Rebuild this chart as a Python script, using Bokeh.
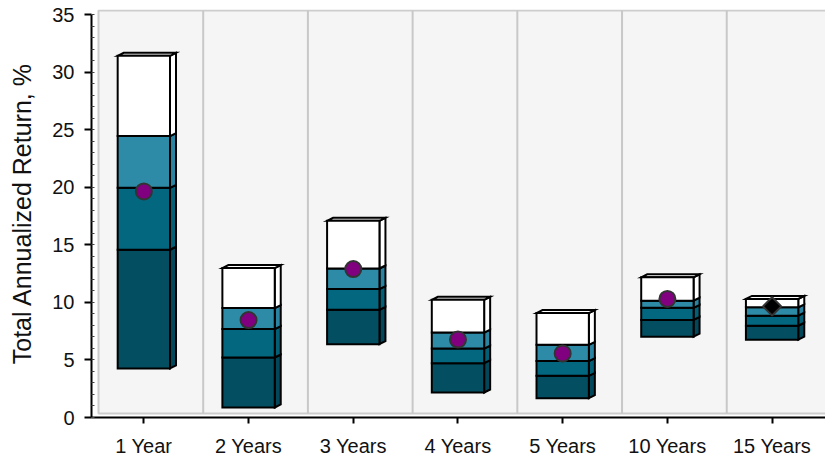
from math import pi
from bokeh.plotting import figure
from bokeh.models import FixedTicker, Range1d
from bokeh.embed import file_html
from bokeh.resources import INLINE

# ---------------- data ----------------
categories = ["1 Year", "2 Years", "3 Years", "4 Years", "5 Years", "10 Years", "15 Years"]
low    = [4.26, 0.87, 6.37, 2.17, 1.68, 7.02, 6.76]      # bottom of range
q1     = [14.57, 5.21, 9.35, 4.72, 3.62, 8.47, 7.97]
median = [19.95, 7.68, 11.15, 5.99, 4.90, 9.53, 8.84]
q3     = [24.44, 9.50, 12.94, 7.38, 6.31, 10.15, 9.57]
high   = [31.41, 12.98, 17.08, 10.22, 9.07, 12.17, 10.30]  # top of range
fund_return  = [19.63, 8.46, 12.89, 6.77, 5.56, 10.30, None]
index_return = [None, None, None, None, None, None, 9.65]
y_ticks = [0, 5, 10, 15, 20, 25, 30, 35]

# ---------------- style ----------------
FONT = "Liberation Sans"
seg_colors = ["#034e60", "#02677f", "#2e8ba7", "#ffffff"]
side_colors = ["#02475a", "#025f76", "#2a83a0", "#ffffff"]
FRAME_W, FRAME_H = 734, 408
X0, X1 = -0.5, 6.51
Y0, Y1 = 0, 35.435
px_x = FRAME_W / (X1 - X0)
px_y = FRAME_H / (Y1 - Y0)
bar_dx, bar_dy = 6 / px_x, 3 / px_y
wall_dx, wall_dy = 7 / px_x, 4 / px_y
half_w = 0.25

p = figure(width=825, height=460, x_range=Range1d(X0, X1), y_range=Range1d(Y0, Y1),
           output_backend="svg", toolbar_location=None,
           min_border_left=91, min_border_right=0, min_border_top=9, min_border_bottom=43)
p.outline_line_color = None
p.background_fill_color = "white"
p.border_fill_color = "white"
p.xgrid.visible = False
p.ygrid.visible = False

# back wall
p.quad(left=[X0 + wall_dx], right=[X1 + 1], bottom=[wall_dy], top=[y_ticks[-1] + wall_dy],
       fill_color="#f5f5f5", line_color="#cdcdcd", line_width=2)
# vertical grid lines on wall (category boundaries)
bx = [i + 0.5 + wall_dx for i in range(len(categories))]
p.segment(x0=bx, y0=[wall_dy] * len(bx), x1=bx, y1=[y_ticks[-1] + wall_dy] * len(bx),
          line_color="#c8c8c8", line_width=2)

# bars
levels = list(zip(low, q1, median, q3, high))
side_xs, side_ys, side_c = [], [], []
top_xs, top_ys = [], []
ql, qr, qb, qt, qc = [], [], [], [], []
for i, lv in enumerate(levels):
    l, r = i - half_w, i + half_w
    for k in range(4):
        b, t = lv[k], lv[k + 1]
        side_xs.append([r, r + bar_dx, r + bar_dx, r])
        side_ys.append([b, b + bar_dy, t + bar_dy, t])
        side_c.append(side_colors[k])
        ql.append(l); qr.append(r); qb.append(b); qt.append(t); qc.append(seg_colors[k])
    top = lv[-1]
    top_xs.append([l, l + bar_dx, r + bar_dx, r])
    top_ys.append([top, top + bar_dy, top + bar_dy, top])

p.patches(side_xs, side_ys, fill_color=side_c, line_color="black", line_width=2, line_join="miter")
p.patches(top_xs, top_ys, fill_color="white", line_color="black", line_width=2, line_join="miter")
p.quad(left=ql, right=qr, bottom=qb, top=qt, fill_color=qc, line_color="black", line_width=2,
       line_join="miter")

# markers
fx = [i for i, v in enumerate(fund_return) if v is not None]
fy = [v for v in fund_return if v is not None]
p.scatter(fx, fy, marker="circle", size=16, fill_color="#800080", line_color="#333333", line_width=2)
ix = [i for i, v in enumerate(index_return) if v is not None]
iy = [v for v in index_return if v is not None]
p.scatter(ix, iy, marker="square", angle=pi / 4, size=13, fill_color="black",
          line_color="#333333", line_width=2)

# axes
ya = p.yaxis[0]
ya.ticker = FixedTicker(ticks=y_ticks, minor_ticks=list(range(y_ticks[0], y_ticks[-1] + 1)))
ya.bounds = (y_ticks[0], y_ticks[-1])
ya.axis_label = "Total Annualized Return, %"
ya.axis_label_text_font = FONT
ya.axis_label_text_font_size = "25px"
ya.axis_label_text_font_style = "normal"
ya.axis_label_text_color = "#111111"
ya.axis_label_standoff = 13
ya.major_label_text_font = FONT
ya.major_label_text_font_size = "20px"
ya.major_label_text_color = "#111111"
ya.major_label_standoff = 10
ya.major_tick_out = 7
ya.major_tick_in = 0
ya.major_tick_line_width = 2
ya.minor_tick_in = 3
ya.minor_tick_out = 0
ya.minor_tick_line_color = "#444444"
ya.axis_line_width = 2

xa = p.xaxis[0]
xa.ticker = FixedTicker(ticks=list(range(len(categories))), minor_ticks=[])
xa.major_label_overrides = {i: c for i, c in enumerate(categories)}
xa.major_label_text_font = FONT
xa.major_label_text_font_size = "20px"
xa.major_label_text_color = "#111111"
xa.major_label_standoff = 11
xa.major_tick_out = 6
xa.major_tick_in = 0
xa.major_tick_line_width = 2
xa.axis_line_width = 2

open("out.html", "w").write(file_html(p, INLINE))
